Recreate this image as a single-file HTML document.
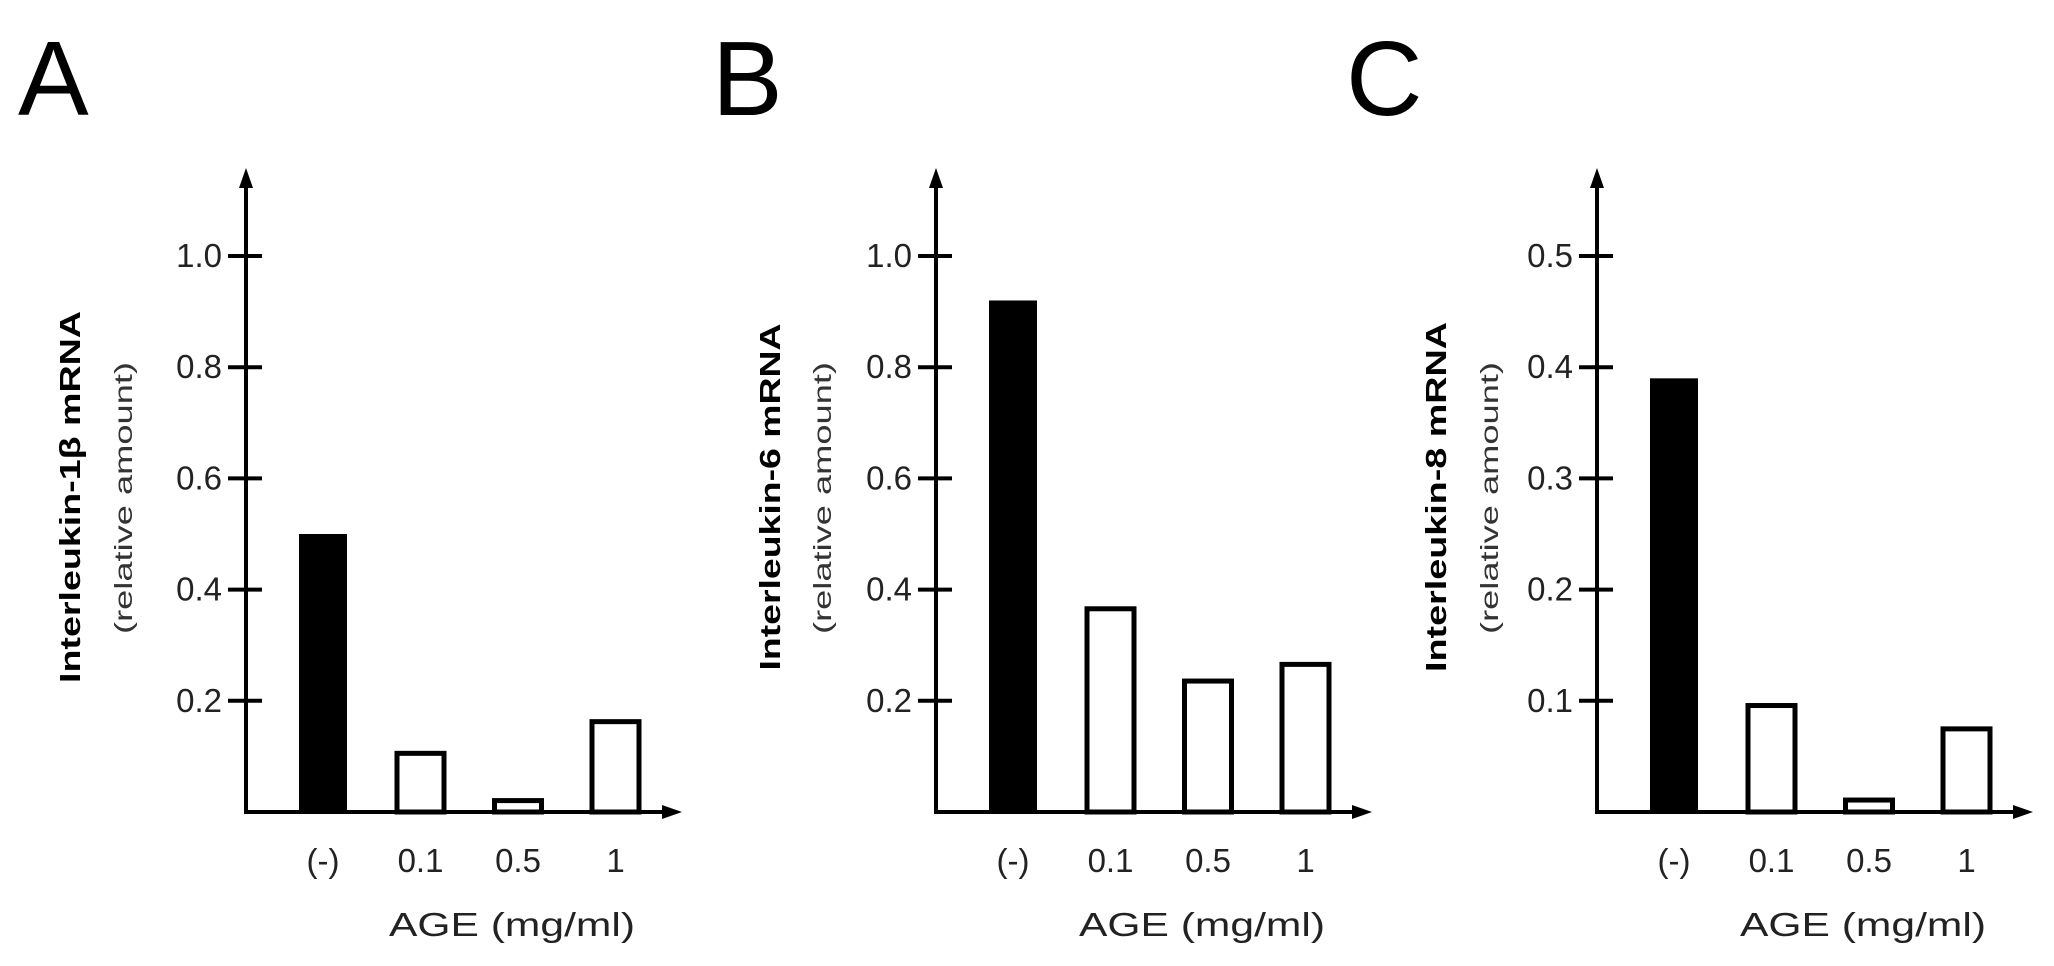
<!DOCTYPE html>
<html><head><meta charset="utf-8"><style>
html,body{margin:0;padding:0;background:#fff;}
svg{display:block;}
text{font-family:"Liberation Sans",sans-serif;}
</style></head><body>
<svg id="fig" width="2054" height="966" viewBox="0 0 2054 966" xmlns="http://www.w3.org/2000/svg"></svg>
<script>
// Panel data
const categories = ["(-)", "0.1", "0.5", "1"];
const valuesA = [0.50, 0.11, 0.025, 0.167];
const valuesB = [0.92, 0.37, 0.24, 0.27];
const valuesC = [0.39, 0.098, 0.013, 0.077];
const ticksA = [0.2, 0.4, 0.6, 0.8, 1.0];
const ticksB = [0.2, 0.4, 0.6, 0.8, 1.0];
const ticksC = [0.1, 0.2, 0.3, 0.4, 0.5];
const tickLabelsA = ["0.2", "0.4", "0.6", "0.8", "1.0"];
const tickLabelsB = ["0.2", "0.4", "0.6", "0.8", "1.0"];
const tickLabelsC = ["0.1", "0.2", "0.3", "0.4", "0.5"];
const maxA = 1.0, maxB = 1.0, maxC = 0.5;

const NS = "http://www.w3.org/2000/svg";
const svg = document.getElementById("fig");
function mk(tag, attrs, parent, txt) {
  const e = document.createElementNS(NS, tag);
  for (const k in attrs) e.setAttribute(k, attrs[k]);
  if (txt !== undefined) e.textContent = txt;
  (parent || svg).appendChild(e);
  return e;
}

const Y0 = 812, YTOP = 256;

function panel(key, ax, letter, letterX, title, titleX, subX, vals, ticks, tickLabels, vmax, titleLen) {
  const g = mk("g", {});
  
  
  const y = v => Y0 - (v / vmax) * (Y0 - YTOP);
  const x = i => ax + 77 + i * 97.5;

  const L = mk("text", {x: letterX, y: 115, "font-size": 106, fill: "#000"}, g, letter);
  
  

  const ya = mk("line", {x1: ax, y1: Y0 + 2, x2: ax, y2: 182, stroke: "#000", "stroke-width": 4}, g);
  
  
  const yh = mk("polygon", {points: `${ax},168 ${ax-7},188 ${ax+7},188`, fill: "#000"}, g);
  
  

  vals.forEach((v, i) => {
    const top = y(v);
    let r;
    if (i === 0) {
      r = mk("rect", {x: x(i) - 24, y: top, width: 48, height: Y0 - top, fill: "#000"}, g);
    } else {
      r = mk("rect", {x: x(i) - 23.5, y: top + 2.5, width: 47, height: Math.max(0, Y0 - top - 2.5), fill: "#fff", stroke: "#000", "stroke-width": 5}, g);
    }
    
    
    const t = mk("text", {x: x(i), y: 872, "font-size": 33, "text-anchor": "middle", fill: "#222"}, g, categories[i]);
    
    
  });

  const xa = mk("line", {x1: ax - 2, y1: Y0, x2: ax + 422, y2: Y0, stroke: "#000", "stroke-width": 4}, g);
  
  
  const xh = mk("polygon", {points: `${ax+436},${Y0} ${ax+416},${Y0-7} ${ax+416},${Y0+7}`, fill: "#000"}, g);
  
  

  ticks.forEach((tv, i) => {
    const ty = y(tv);
    const tl = mk("line", {x1: ax - 18, y1: ty, x2: ax + 16, y2: ty, stroke: "#000", "stroke-width": 4}, g);
    
    
    const tt = mk("text", {x: ax - 24, y: ty + 11, "font-size": 33, "text-anchor": "end", fill: "#222"}, g, tickLabels[i]);
    
    
  });

  const xt = mk("text", {x: ax + 266, y: 936, "font-size": 33, "text-anchor": "middle", fill: "#222", textLength: 246, lengthAdjust: "spacingAndGlyphs"}, g, "AGE (mg/ml)");
  
  

  const yt = mk("text", {x: 0, y: 0, "font-size": 29, "font-weight": "bold", "text-anchor": "middle", fill: "#000",
    transform: `translate(${titleX},497) rotate(-90)`, textLength: titleLen, lengthAdjust: "spacingAndGlyphs"}, g, title);
  
  
  const ys = mk("text", {x: 0, y: 0, "font-size": 25, "text-anchor": "middle", fill: "#333",
    transform: `translate(${subX},498) rotate(-90)`, textLength: 272, lengthAdjust: "spacingAndGlyphs"}, g, "(relative amount)");
  
  
}

panel("a", 246, "A", 18, "Interleukin-1β mRNA", 80, 132, valuesA, ticksA, tickLabelsA, maxA, 372);
panel("b", 936, "B", 712, "Interleukin-6 mRNA", 780, 831, valuesB, ticksB, tickLabelsB, maxB, 347);
panel("c", 1597, "C", 1346, "Interleukin-8 mRNA", 1446, 1498, valuesC, ticksC, tickLabelsC, maxC, 350);
</script>
</body></html>
